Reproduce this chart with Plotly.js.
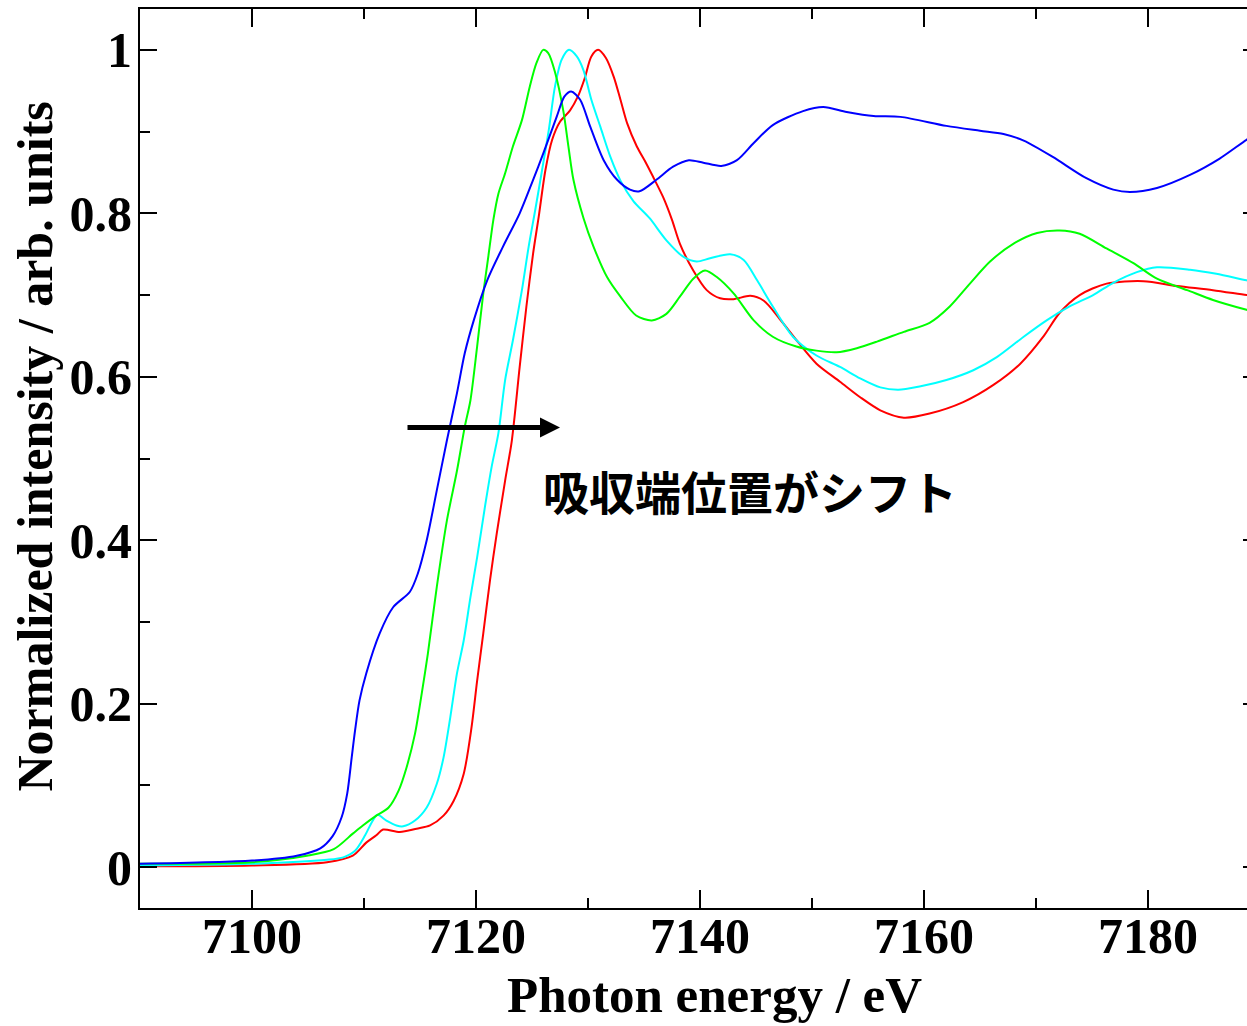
<!DOCTYPE html>
<html>
<head>
<meta charset="utf-8">
<script src="https://cdn.plot.ly/plotly-3.0.1.min.js"></script>
<style>
html,body{margin:0;padding:0;background:#fff;overflow:hidden;}
#chart{width:1270px;height:1026px;}
</style>
</head>
<body>
<div id="chart"></div>
<script>
// Photon energy (eV) and normalized intensity for each spectrum
const energyBlue = [7090,7100,7104,7106.1,7107.2,7108.0,7108.5,7108.9,7109.2,7109.6,7110.2,7111.4,7112.6,7114.1,7114.8,7115.6,7116.5,7117.4,7118.3,7119.0,7119.8,7121.0,7122.4,7123.9,7125.1,7126.0,7127.2,7127.9,7128.5,7129.3,7130.2,7131.4,7132.6,7133.75,7134.6,7136.1,7137.6,7139.0,7140.3,7141.9,7143.3,7144.8,7146.5,7149.2,7151.0,7153.1,7155.5,7157.9,7162.0,7165.0,7167.1,7168.9,7171.5,7174.5,7176.9,7178.4,7180.8,7183.75,7186.4,7188.8,7190];
const intBlue    = [0.004,0.008,0.014,0.023,0.038,0.061,0.090,0.134,0.167,0.204,0.237,0.286,0.318,0.337,0.359,0.400,0.461,0.522,0.580,0.629,0.669,0.718,0.759,0.800,0.841,0.873,0.918,0.943,0.949,0.939,0.906,0.865,0.841,0.829,0.827,0.841,0.857,0.865,0.862,0.858,0.865,0.886,0.908,0.925,0.930,0.924,0.919,0.918,0.907,0.901,0.897,0.889,0.869,0.843,0.829,0.826,0.831,0.847,0.867,0.890,0.900];

const energyGreen = [7090,7100,7104.9,7107.3,7109.0,7109.9,7111.1,7112.2,7113.1,7113.8,7114.55,7115.15,7115.7,7116.5,7117.4,7118.3,7119.0,7119.5,7120.1,7120.65,7121.1,7121.55,7122.0,7122.6,7123.3,7124.1,7124.8,7125.4,7126.0,7126.45,7127.05,7127.8,7128.25,7128.7,7129.6,7130.5,7131.7,7132.9,7134.3,7135.7,7137.0,7138.2,7139.4,7140.45,7141.5,7143.0,7144.8,7146.5,7148.6,7150.4,7152.2,7154.0,7155.8,7158.2,7160.5,7162.3,7164.1,7165.9,7168.0,7170.1,7172.1,7173.9,7176.3,7178.7,7180.8,7183.5,7185.8,7188.8,7190];
const intGreen    = [0.004,0.006,0.014,0.022,0.041,0.051,0.063,0.073,0.094,0.122,0.163,0.212,0.261,0.343,0.424,0.485,0.539,0.571,0.637,0.702,0.747,0.792,0.824,0.849,0.882,0.914,0.955,0.984,1.000,0.996,0.973,0.925,0.882,0.841,0.794,0.759,0.722,0.698,0.675,0.669,0.677,0.698,0.720,0.730,0.722,0.702,0.669,0.649,0.637,0.632,0.630,0.635,0.643,0.655,0.666,0.686,0.714,0.741,0.763,0.776,0.779,0.775,0.757,0.739,0.720,0.706,0.694,0.682,0.678];

const energyCyan = [7090,7100,7106.7,7108.15,7109.2,7110.1,7110.7,7111.2,7112.0,7112.9,7113.5,7114.55,7115.6,7116.5,7117.1,7117.7,7118.3,7118.9,7119.5,7120.1,7120.8,7121.4,7122.0,7122.6,7123.3,7124.1,7124.7,7125.3,7125.9,7126.5,7127.05,7127.65,7128.3,7129.0,7129.6,7130.3,7131.1,7132.0,7132.9,7134.05,7135.5,7137.0,7138.5,7139.7,7140.9,7142.7,7143.9,7145.1,7146.5,7148.3,7150.4,7152.5,7154.3,7156.1,7157.7,7159.6,7162.0,7164.4,7166.5,7168.9,7170.95,7173.0,7175.1,7176.9,7179.0,7180.8,7183.75,7186.1,7188.8,7190];
const intCyan    = [0.002,0.004,0.009,0.012,0.020,0.039,0.055,0.064,0.057,0.051,0.050,0.057,0.073,0.102,0.134,0.183,0.237,0.277,0.330,0.379,0.441,0.490,0.531,0.596,0.645,0.706,0.759,0.805,0.853,0.902,0.955,0.988,1.000,0.992,0.975,0.939,0.906,0.869,0.840,0.815,0.794,0.767,0.747,0.741,0.745,0.750,0.743,0.718,0.686,0.649,0.626,0.612,0.598,0.587,0.584,0.588,0.596,0.608,0.624,0.649,0.669,0.686,0.700,0.715,0.728,0.734,0.731,0.726,0.718,0.715];

const energyRed = [7090,7100,7106.7,7109.0,7110.2,7111.1,7111.7,7113.2,7114.7,7115.9,7117.1,7118.0,7118.9,7119.6,7120.1,7120.65,7121.25,7121.85,7122.6,7123.2,7123.9,7124.5,7125.1,7125.6,7126.2,7126.8,7127.5,7128.4,7129.1,7129.7,7130.3,7130.9,7131.6,7132.3,7132.9,7133.5,7134.35,7135.2,7135.8,7136.7,7137.5,7138.2,7139.4,7140.6,7141.8,7143.0,7144.5,7145.7,7147.1,7148.6,7150.4,7152.5,7154.3,7156.1,7158.2,7160.5,7163.5,7166.2,7168.6,7170.65,7172.1,7173.9,7176.3,7179.6,7182.6,7185.8,7188.8,7190];
const intRed    = [0.001,0.002,0.006,0.014,0.030,0.039,0.046,0.043,0.047,0.051,0.063,0.081,0.114,0.171,0.228,0.286,0.351,0.408,0.473,0.522,0.612,0.686,0.751,0.796,0.853,0.890,0.912,0.926,0.943,0.965,0.992,1.000,0.990,0.967,0.939,0.910,0.882,0.861,0.845,0.820,0.792,0.763,0.730,0.706,0.696,0.695,0.699,0.693,0.671,0.645,0.616,0.594,0.575,0.559,0.550,0.555,0.569,0.590,0.616,0.649,0.678,0.700,0.714,0.717,0.711,0.706,0.700,0.698];

const xTickVals = [7100,7120,7140,7160,7180];
const xTickText = ['7100','7120','7140','7160','7180'];
const yTickVals = [0,0.2,0.4,0.6,0.8,1];
const yTickText = ['0','0.2','0.4','0.6','0.8','1'];

const xTitle = 'Photon energy / eV';
const yTitle = 'Normalized intensity / arb. units';
const noteText = '吸収端位置がシフト';

const serif = 'Liberation Serif, Times New Roman, serif';

function tr(x, y, color) {
  return {x: x, y: y, type: 'scatter', mode: 'lines',
          line: {color: color, width: 2, shape: 'spline', smoothing: 0.8},
          hoverinfo: 'skip', showlegend: false};
}

const data = [
  tr(energyRed, intRed, '#ff0000'),
  tr(energyCyan, intCyan, '#00ffff'),
  tr(energyGreen, intGreen, '#00ff00'),
  tr(energyBlue, intBlue, '#0000ff')
];

const axisCommon = {
  showline: true, linecolor: '#000', linewidth: 2,
  mirror: 'ticks', ticks: 'inside', tickcolor: '#000', tickwidth: 2,
  showgrid: false, zeroline: false,
  tickfont: {family: serif, size: 50, color: '#000', weight: 'bold'}
};

const layout = {
  width: 1270, height: 1026,
  margin: {l: 140, r: 10, t: 9, b: 118},
  paper_bgcolor: '#fff', plot_bgcolor: '#fff',
  xaxis: Object.assign({}, axisCommon, {
    range: [7090, 7190], tickmode: 'array', tickvals: xTickVals, ticktext: xTickText,
    ticklen: 18, ticklabelstandoff: -17,
    minor: {dtick: 10, tick0: 7090, ticks: 'inside', ticklen: 10, tickwidth: 2, tickcolor: '#000'}
  }),
  yaxis: Object.assign({}, axisCommon, {
    range: [-0.05, 1.05], tickmode: 'array', tickvals: yTickVals, ticktext: yTickText,
    ticklen: 17, ticklabelstandoff: -4,
    minor: {dtick: 0.1, tick0: 0, ticks: 'inside', ticklen: 10, tickwidth: 2, tickcolor: '#000'}
  }),
  annotations: [
    {x: 7127.5, y: 0.538, ax: 7113.75, ay: 0.538, xref: 'x', yref: 'y', axref: 'x', ayref: 'y',
     showarrow: true, arrowhead: 2, arrowsize: 0.8, arrowwidth: 5, arrowcolor: '#000', text: '', standoff: 0},
    {x: 7144.5, y: 0.462, xref: 'x', yref: 'y', showarrow: false, text: noteText,
     font: {family: 'Noto Sans CJK JP', size: 46, color: '#000', weight: 'bold'}, xanchor: 'center', yanchor: 'middle'},
    {x: 0.5125, y: -0.097, xref: 'paper', yref: 'paper', showarrow: false, text: xTitle,
     font: {family: serif, size: 51, color: '#000', weight: 'bold'}, xanchor: 'center', yanchor: 'middle'},
    {x: -0.094, y: 0.513, xref: 'paper', yref: 'paper', showarrow: false, text: yTitle, textangle: -90,
     font: {family: serif, size: 50, color: '#000', weight: 'bold'}, xanchor: 'center', yanchor: 'middle'}
  ]
};

Plotly.newPlot('chart', data, layout, {staticPlot: true, displayModeBar: false});
</script>
</body>
</html>
